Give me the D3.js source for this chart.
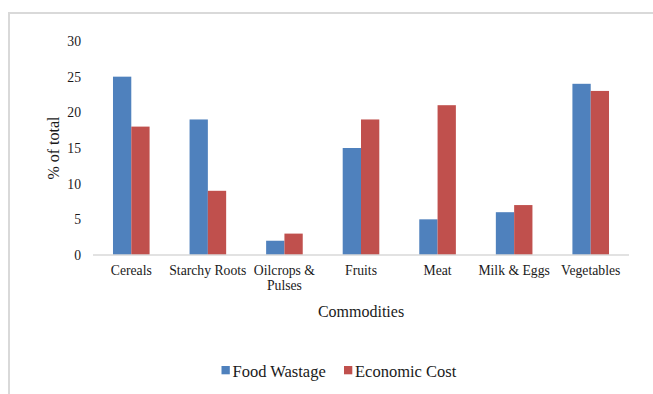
<!DOCTYPE html>
<html>
<head>
<meta charset="utf-8">
<script src="https://cdn.jsdelivr.net/npm/d3@7"></script>
<style>
  html, body { margin: 0; padding: 0; background: #fff; }
  svg { display: block; }
</style>
</head>
<body>
<svg id="chart" width="653" height="394"></svg>
<script>
// Share of total by commodity group
const categories = ["Cereals", "Starchy Roots", "Oilcrops & Pulses", "Fruits", "Meat", "Milk & Eggs", "Vegetables"];
const categoryLines = [["Cereals"], ["Starchy Roots"], ["Oilcrops &", "Pulses"], ["Fruits"], ["Meat"], ["Milk & Eggs"], ["Vegetables"]];
const seriesNames = ["Food Wastage", "Economic Cost"];
const foodWastage = [25, 19, 2, 15, 5, 6, 24];
const economicCost = [18, 9, 3, 19, 21, 7, 23];
const yTicks = [0, 5, 10, 15, 20, 25, 30];
const colors = ["#4f81bd", "#c0504d"];
const FONT = "'Liberation Serif', 'Times New Roman', serif";

const svg = d3.select("#chart");

// outer frame (open on right and bottom)
svg.append("path")
  .attr("d", "M9,394 V13 H653")
  .attr("fill", "none")
  .attr("stroke", "#d9d9d9")
  .attr("stroke-width", 2);

const plot = { left: 93, right: 629, top: 41, bottom: 255 };

const x = d3.scaleBand().domain(categories).range([plot.left, plot.right]).paddingInner(0).paddingOuter(0);
const y = d3.scaleLinear().domain([0, 30]).range([plot.bottom, plot.top]);
const barW = 18.3;
const xs = d3.scaleBand().domain(seriesNames).range([-barW, barW]);

const rows = categories.map((c, i) => ({ c, vals: [foodWastage[i], economicCost[i]] }));

const g = svg.append("g");
g.selectAll("g.cat").data(rows).join("g")
  .attr("class", "cat")
  .attr("transform", d => `translate(${x(d.c) + x.bandwidth() / 2},0)`)
  .selectAll("rect").data(d => d.vals.map((v, k) => ({ v, k })))
  .join("rect")
  .attr("x", d => xs(seriesNames[d.k]))
  .attr("width", xs.bandwidth())
  .attr("y", d => y(d.v))
  .attr("height", d => y(0) - y(d.v))
  .attr("fill", d => colors[d.k]);

// baseline
svg.append("line")
  .attr("x1", plot.left).attr("x2", plot.right)
  .attr("y1", y(0)).attr("y2", y(0))
  .attr("stroke", "#d9d9d9").attr("stroke-width", 1.5);

// y tick labels
const yAxis = d3.axisLeft(y).tickValues(yTicks).tickSize(0).tickPadding(0);
const ya = svg.append("g").attr("transform", "translate(81,0)").call(yAxis);
ya.attr("font-family", FONT).attr("font-size", 13.7);
ya.select(".domain").remove();
ya.selectAll("text").attr("fill", "#1a1a1a");

// x category labels
const xl = svg.append("g").attr("font-family", FONT);
categories.forEach((c, i) => {
  const cx = x(c) + x.bandwidth() / 2;
  const t = xl.append("text")
    .attr("x", cx)
    .attr("y", 275)
    .attr("text-anchor", "middle")
    .attr("font-size", 13.7).attr("fill", "#1a1a1a");
  categoryLines[i].forEach((ln, j) => {
    t.append("tspan").attr("x", cx).attr("dy", j === 0 ? 0 : 15).text(ln);
  });
});

// axis titles
svg.append("text")
  .attr("font-family", FONT)
  .attr("x", 361).attr("y", 317)
  .attr("text-anchor", "middle").attr("font-size", 16).attr("fill", "#1a1a1a")
  .text("Commodities");
svg.append("text")
  .attr("font-family", FONT)
  .attr("transform", "translate(59,148) rotate(-90)")
  .attr("text-anchor", "middle").attr("font-size", 16).attr("fill", "#1a1a1a")
  .text("% of total");

// legend
const legendPos = [221.5, 344];
const lg = svg.append("g").attr("font-family", FONT);
seriesNames.forEach((s, k) => {
  lg.append("rect").attr("x", legendPos[k]).attr("y", 366).attr("width", 8.3).attr("height", 8.3).attr("fill", colors[k]);
  lg.append("text").attr("x", legendPos[k] + 11).attr("y", 376.5)
    .attr("font-size", 16.5).attr("fill", "#1a1a1a").text(s);
});
</script>
</body>
</html>
